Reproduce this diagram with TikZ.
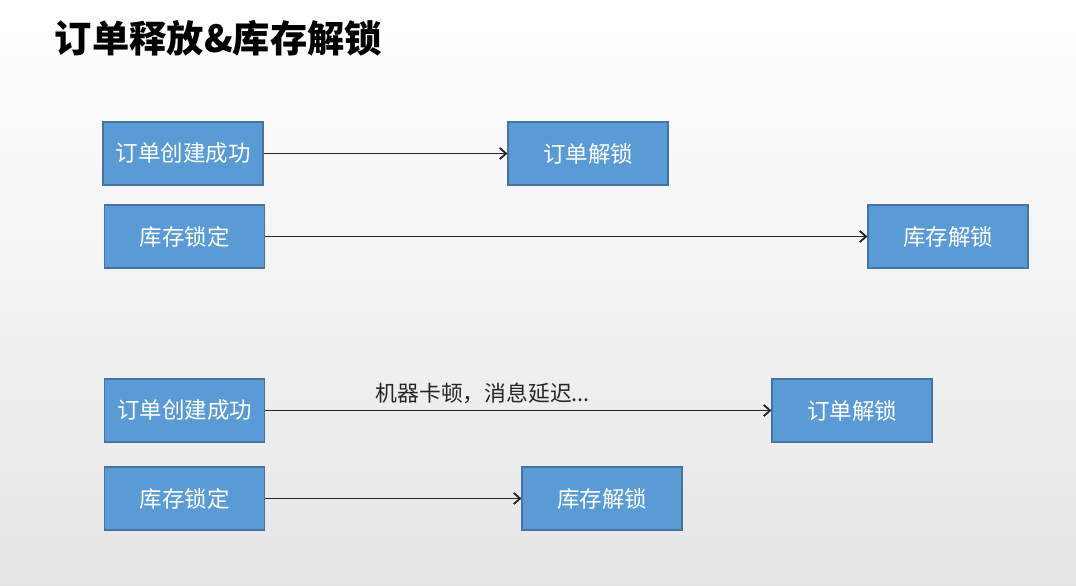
\documentclass[tikz,border=0pt]{standalone}
\usepackage{fontspec}
\usetikzlibrary{arrows.meta}
\newfontfamily\cjk{Noto Sans CJK SC}
\definecolor{boxblue}{RGB}{91,155,213}
\definecolor{boxline}{RGB}{70,115,160}
\tikzset{
  stepbox/.style={draw=boxline,fill=boxblue,text=white,line width=0.8pt,
    minimum width=4cm,minimum height=1.575cm,inner sep=0pt,font=\cjk\fontsize{16}{18}\selectfont},
  flow/.style={-{Straight Barb[length=4.5pt,width=8pt]},line width=1.3pt,black!85}
}
\begin{document}
\begin{tikzpicture}[x=0.025cm,y=-0.025cm]
  \useasboundingbox (0,0) rectangle (1076,585);
  \shade[top color=white,bottom color=black!10] (0,0) rectangle (1076,585);
  \node[anchor=west,font=\cjk\bfseries\fontsize{26.5}{30}\selectfont] (title) at (50,38) {订单释放\&库存解锁};
  % normal case
  \node[stepbox] (order1) at (183,153.5) {订单创建成功};
  \node[stepbox] (unlock1) at (588,153.5) {订单解锁};
  \node[stepbox] (stock1) at (184.5,236.5) {库存锁定};
  \node[stepbox] (release1) at (948,236.5) {库存解锁};
  \draw[flow] (order1) -- (unlock1);
  \draw[flow] (stock1) -- (release1);
  % delayed case
  \node[stepbox] (order2) at (184.5,410.5) {订单创建成功};
  \node[stepbox] (unlock2) at (852,410.5) {订单解锁};
  \node[stepbox] (stock2) at (184.5,498.5) {库存锁定};
  \node[stepbox] (release2) at (602,498.5) {库存解锁};
  \draw[flow] (order2) -- node[above=1pt,font=\cjk\fontsize{15.5}{18}\selectfont,pos=0.43] (delay) {机器卡顿，消息延迟...} (unlock2);
  \draw[flow] (stock2) -- (release2);
\end{tikzpicture}
\end{document}
